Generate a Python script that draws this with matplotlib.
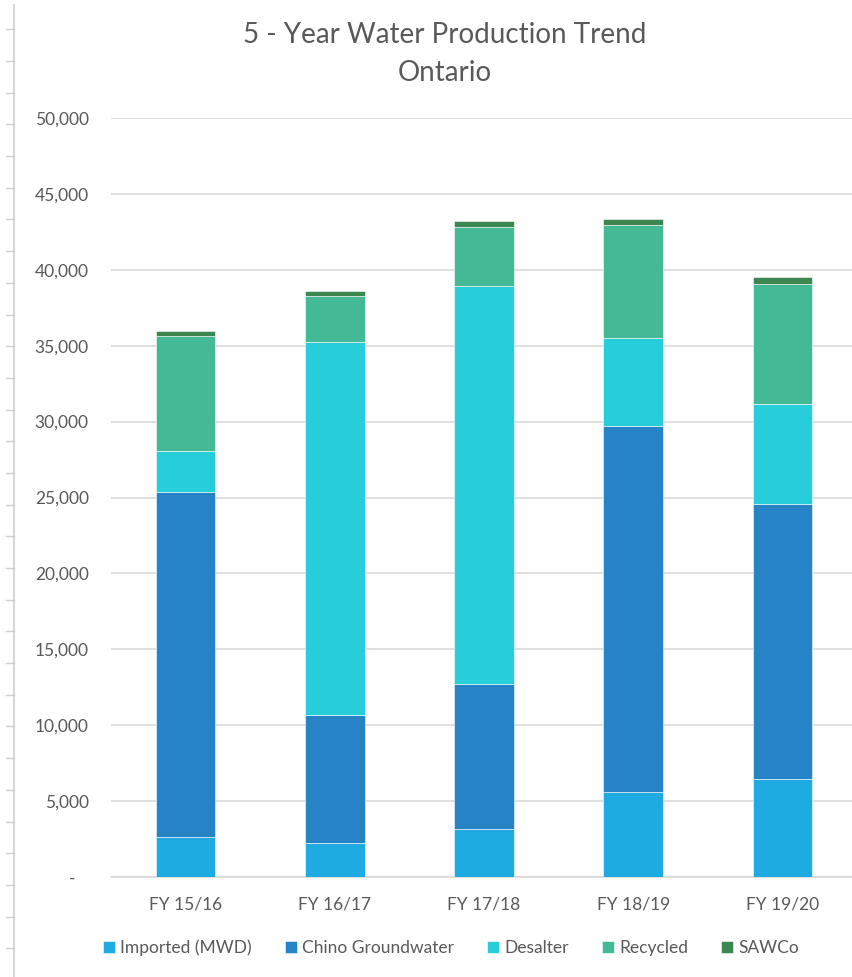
import matplotlib
matplotlib.use("Agg")
import matplotlib.pyplot as plt
from matplotlib.lines import Line2D
from matplotlib.ticker import FuncFormatter, MultipleLocator

plt.rcParams['font.family'] = ['Lato', 'DejaVu Sans']

categories = ["FY 15/16", "FY 16/17", "FY 17/18", "FY 18/19", "FY 19/20"]
imported = [2650, 2260, 3140, 5600, 6480]
chino = [22710, 8390, 9600, 24110, 18070]
desalter = [2720, 24570, 26190, 5820, 6610]
recycled = [7560, 3080, 3910, 7440, 7880]
sawco = [350, 300, 390, 400, 510]

series_names = ["Imported (MWD)", "Chino Groundwater", "Desalter", "Recycled", "SAWCo"]
series_values = [imported, chino, desalter, recycled, sawco]
colors = ["#1DABE2", "#2683C6", "#27CDD8", "#43B996", "#3C8652"]

W, H = 852, 977
fig = plt.figure(figsize=(W / 100, H / 100), dpi=100)
ax = fig.add_axes([111 / W, 1 - 877 / H, 746 / W, 759 / H])

x = list(range(len(categories)))
bottom = [0] * len(categories)
for name, vals, c in zip(series_names, series_values, colors):
    ax.bar(x, vals, width=0.4, bottom=bottom, color=c, label=name,
           edgecolor="white", linewidth=0.4, zorder=3)
    bottom = [b + v for b, v in zip(bottom, vals)]

ax.set_xlim(-0.5, len(categories) - 0.5)
ax.set_ylim(0, 50000)
ax.yaxis.set_major_locator(MultipleLocator(5000))
ax.yaxis.set_major_formatter(FuncFormatter(lambda v, p: "-   " if v == 0 else f"{int(v):,}"))
ax.set_xticks(x)
ax.set_xticklabels(categories)
ax.grid(axis="y", color="#D9D9D9", linewidth=1.2, zorder=0)
for s in ["top", "right", "left"]:
    ax.spines[s].set_visible(False)
ax.spines["bottom"].set_color("#D9D9D9")
ax.spines["bottom"].set_linewidth(1.2)
ax.tick_params(axis="y", length=0, pad=16, labelsize=12.5, labelcolor="#595959")
ax.tick_params(axis="x", length=0, pad=14, labelsize=12.5, labelcolor="#595959")

fig.text(445 / W, 1 - 35 / H, "5 - Year Water Production Trend", ha="center", va="center",
         fontsize=20, color="#595959")
fig.text(445 / W, 1 - 73 / H, "Ontario", ha="center", va="center",
         fontsize=20, color="#595959")

leg = ax.legend(loc="center", bbox_to_anchor=(451 / W, 1 - 948 / H),
                bbox_transform=fig.transFigure, ncol=5, frameon=False,
                fontsize=12.5, handlelength=0.7, handleheight=0.7,
                handletextpad=0.3, columnspacing=1.9)
for t in leg.get_texts():
    t.set_color("#595959")

# left-edge ruler decoration from the screenshot
rc = "#D0D0D0"
fig.add_artist(Line2D([13.5 / W, 13.5 / W], [0, 1 - 5 / H], transform=fig.transFigure,
                      color=rc, linewidth=1.2))
for i in range(30):
    yy = 29.3 + i * 31.69
    fig.add_artist(Line2D([6 / W, 13.5 / W], [1 - yy / H, 1 - yy / H],
                          transform=fig.transFigure, color=rc, linewidth=1.0))

fig.savefig("out.png", dpi=100)
